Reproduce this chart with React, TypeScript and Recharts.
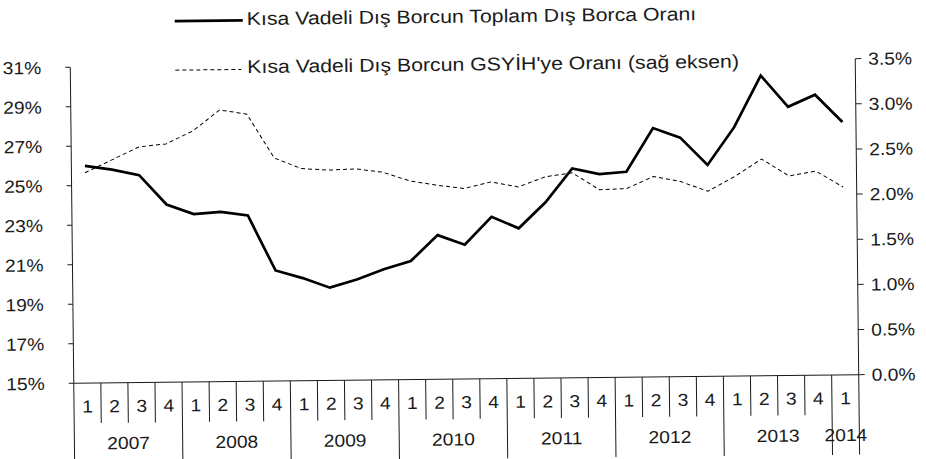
import React from "react";
import { LineChart, Line, XAxis, YAxis } from "recharts";

// quarterly, 2007Q1 .. 2014Q1
const years = [2007, 2008, 2009, 2010, 2011, 2012, 2013, 2014];
const quarters = ["1", "2", "3", "4"];
const totalShare = [
  26.0, 25.8, 25.5, 24.0, 23.5, 23.6, 23.4, 20.6, 20.2, 19.7, 20.1, 20.6, 21.0, 22.3, 21.8,
  23.2, 22.6, 23.9, 25.6, 25.3, 25.4, 27.6, 27.1, 25.7, 27.6, 30.2, 28.6, 29.2, 27.8,
];
const gdpShare = [
  2.33, 2.47, 2.61, 2.64, 2.78, 3.01, 2.96, 2.47, 2.35, 2.33, 2.34, 2.3, 2.2, 2.15, 2.11,
  2.18, 2.12, 2.23, 2.27, 2.08, 2.09, 2.22, 2.16, 2.05, 2.21, 2.4, 2.21, 2.26, 2.08,
];
const leftTicks = [15, 17, 19, 21, 23, 25, 27, 29, 31];
const rightTicks = [0, 0.5, 1, 1.5, 2, 2.5, 3, 3.5];
const legendTotal = "Kısa Vadeli Dış Borcun Toplam Dış Borca Oranı";
const legendGdp = "Kısa Vadeli Dış Borcun GSYİH'ye Oranı (sağ eksen)";

const data = totalShare.map((v, i) => ({
  key: i,
  year: years[Math.floor(i / 4)],
  quarter: quarters[i % 4],
  total: v,
  gdp: gdpShare[i],
}));

const W = 926;
const H = 459;
const LEFT_W = 72;
const RIGHT_W = 69;
const TOP = 63;
const XAXIS_H = 80;
const BAND = (W - LEFT_W - RIGHT_W) / data.length;
const FONT = '"Liberation Sans", Arial, sans-serif';
const INK = "#1a1a1a";

function StretchText({ x, y, anchor, children, size = 17.5, sx = 1.1 }: any) {
  return (
    <text
      transform={`translate(${x},${y}) scale(${sx},1)`}
      textAnchor={anchor}
      dy="0.36em"
      fill={INK}
      fontSize={size}
      fontFamily={FONT}
    >
      {children}
    </text>
  );
}

function LeftTick({ x, y, payload }: any) {
  return <StretchText x={x} y={y} anchor="end">{`${payload.value}%`}</StretchText>;
}

function RightTick({ x, y, payload }: any) {
  return <StretchText x={x} y={y} anchor="start">{`${Number(payload.value).toFixed(1)}%`}</StretchText>;
}

function QuarterTick({ x, y, payload }: any) {
  const row = data[payload.value];
  const left = x - BAND / 2;
  const first = row.quarter === "1";
  const n = data.filter((d) => d.year === row.year).length;
  const isLast = payload.value === data.length - 1;
  return (
    <g>
      <line x1={left} x2={left} y1={y} y2={y + (first ? 80 : 40)} stroke={INK} strokeWidth={1} />
      {isLast && (
        <line x1={x + BAND / 2} x2={x + BAND / 2} y1={y} y2={y + 80} stroke={INK} strokeWidth={1} />
      )}
      <StretchText x={x} y={y + 23} anchor="middle">{row.quarter}</StretchText>
      {first && (
        <StretchText x={left + (n * BAND) / 2} y={y + 60} anchor="middle">
          {row.year}
        </StretchText>
      )}
    </g>
  );
}

export default function App() {
  return (
    <div
      style={{
        position: "absolute",
        left: 0,
        top: 0,
        width: W,
        height: H,
        transform: "rotate(-0.63deg)",
        transformOrigin: "464px 221px",
      }}
    >
      <LineChart width={W} height={H} data={data} margin={{ top: TOP, right: 0, bottom: 0, left: 0 }}>
        <XAxis
          dataKey="key"
          interval={0}
          height={XAXIS_H}
          padding={{ left: BAND / 2, right: BAND / 2 }}
          tickLine={false}
          tickSize={0}
          tickMargin={0}
          axisLine={{ stroke: INK }}
          tick={<QuarterTick />}
        />
        <YAxis
          yAxisId="left"
          width={LEFT_W}
          domain={[15, 31]}
          ticks={leftTicks}
          tickSize={5}
          tickMargin={24}
          axisLine={{ stroke: INK }}
          tickLine={{ stroke: INK }}
          tick={<LeftTick />}
        />
        <YAxis
          yAxisId="right"
          orientation="right"
          width={RIGHT_W}
          domain={[0, 3.5]}
          ticks={rightTicks}
          tickSize={6}
          tickMargin={7}
          axisLine={{ stroke: INK }}
          tickLine={{ stroke: INK }}
          tick={<RightTick />}
        />
        <Line
          yAxisId="right"
          dataKey="gdp"
          stroke="#000"
          strokeWidth={1}
          strokeDasharray="4 3"
          dot={false}
          isAnimationActive={false}
        />
        <Line
          yAxisId="left"
          dataKey="total"
          stroke="#000"
          strokeWidth={2.7}
          dot={false}
          isAnimationActive={false}
        />
      </LineChart>
      <svg width={W} height={90} style={{ position: "absolute", left: 0, top: 0, pointerEvents: "none" }}>
        <line x1={177} x2={245} y1={18} y2={18} stroke="#000" strokeWidth={2.7} />
        <StretchText x={249} y={16} anchor="start" size={18.5} sx={1.15}>
          {legendTotal}
        </StretchText>
        <line x1={177} x2={243} y1={67} y2={67} stroke="#000" strokeWidth={1} strokeDasharray="4 3" />
        <StretchText x={249} y={64} anchor="start" size={18.5} sx={1.15}>
          {legendGdp}
        </StretchText>
      </svg>
    </div>
  );
}
